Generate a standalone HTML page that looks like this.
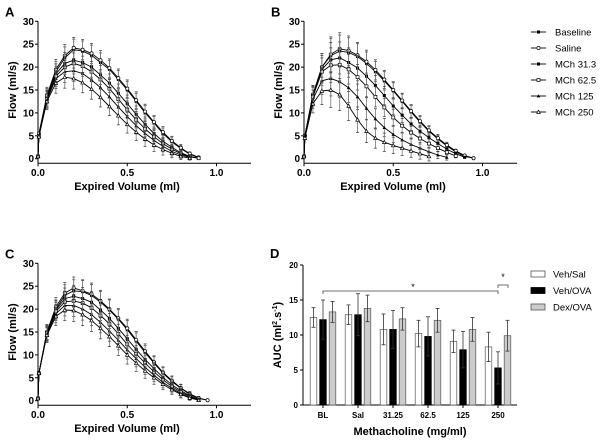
<!DOCTYPE html>
<html><head><meta charset="utf-8"><style>
html,body{margin:0;padding:0;background:#fff;}
svg{display:block;font-family:"Liberation Sans",Arial,sans-serif;}
</style></head><body>
<svg id="fig" width="600" height="440" viewBox="0 0 600 440"></svg>
<script>
// ---- data ----
const vols = [0,0.005,0.05,0.1,0.15,0.2,0.25,0.3,0.35,0.4,0.45,0.5,0.55,0.6,0.65,0.7,0.75,0.8,0.85,0.9,0.95];
const seriesNames = ["Baseline","Saline","MCh 31.3","MCh 62.5","MCh 125","MCh 250"];
const A_base = [0.5,5,13.5,19,22,23.8,23.5,22.6,21,19.5,17.3,15,12.5,10,7.8,5.5,3.7,2.2,1,0.2,null];
const A_sal  = [0.5,5.5,13.8,19.5,22.5,24.2,23.8,23,21.5,19.8,17.6,15.3,12.8,10.3,8,5.8,3.9,2.4,1.1,0.3,null];
const A_m31  = [0.5,5,13.2,18.5,20.8,21.5,21,20,18.3,16.5,14.3,12,9.7,7.5,5.5,3.8,2.5,1.3,0.5,0.1,null];
const A_m62  = [0.5,5,13,18,20,20.8,20.2,19,17.3,15.3,13,10.7,8.5,6.5,4.8,3.3,2.1,1.1,0.4,0.1,null];
const A_m125 = [0.5,5,12.8,17.5,19,19.2,18.6,17.2,15.5,13.5,11.3,9.2,7.2,5.5,4,2.7,1.6,0.8,0.3,null,null];
const A_m250 = [0.5,4.8,12.5,16.5,17.8,17.5,16.6,15.2,13.4,11.4,9.4,7.5,5.8,4.3,3,2,1.2,0.5,0.1,null,null];
const A_err  = [0.5,1.5,1.8,2.2,2.4,2.3,2.2,2.2,2.1,2,2,1.9,1.8,1.6,1.4,1.2,1,0.7,0.4,0.2,0.1];
const B_base = [0.5,5,14,20,22.5,23.5,23.2,22.3,20.8,19,17,14.8,12.5,10.2,8,6,4.3,2.8,1.5,0.5,0.1];
const B_sal  = [0.5,5,14,20,22.8,24,23.6,22.6,21.2,19.4,17.3,15,12.7,10.4,8.2,6.2,4.5,3,1.7,0.7,0.1];
const B_m31  = [0.5,5,13.8,19.5,21.6,22,21,19.8,18,16,13.8,11.5,9.5,7.6,6,4.6,3.3,2.1,1.1,0.3,null];
const B_m62  = [0.5,5,13.5,19,20.4,20.5,19.5,17.8,15.8,13.5,11.2,9,7.2,5.7,4.4,3.3,2.3,1.4,0.6,null,null];
const B_m125 = [0.5,5,13,17,17.5,16.8,15.5,13.5,11,8.7,6.8,5.3,4.1,3.1,2.3,1.5,0.8,0.3,null,null,null];
const B_m250 = [0.5,4.5,12,14.8,15,14,11.5,8.5,6,4.5,3.6,2.9,2.3,1.7,1.1,0.5,null,null,null,null,null];
const B_err  = [0.5,1.5,2,3,3.8,3.5,3.2,2.8,2.5,2.2,2,1.8,1.6,1.4,1.2,1,0.8,0.6,0.4,0.2,0.1];
const C_base = [0.5,6,15,20,23,24,23.8,23,21.5,19.8,17.8,15.5,13,10.5,8.2,6,4.2,2.7,1.4,0.5,0.1];
const C_sal  = [0.5,6,15,20.5,23.5,24.6,24,23.3,21.8,20,18,15.8,13.3,10.8,8.4,6.2,4.4,2.8,1.5,0.6,0.1];
const C_m31  = [0.5,6,14.8,19.8,22.3,22.8,22.3,21.5,19.8,18,15.8,13.5,11.2,9,7,5.1,3.5,2.2,1.1,0.3,null];
const C_m62  = [0.5,6,14.7,19.5,21.6,21.8,21.3,20.3,18.6,16.8,14.6,12.3,10.2,8.2,6.3,4.6,3.1,1.9,0.9,0.2,null];
const C_m125 = [0.5,6,14.5,19,20.8,20.8,20,18.8,17.1,15.2,13.2,11.1,9.2,7.3,5.6,4,2.7,1.6,0.7,0.2,null];
const C_m250 = [0.5,6,14.3,18.4,19.8,19.7,18.8,17.5,15.8,14,12,10,8.2,6.5,5,3.6,2.4,1.4,0.6,0.1,null];
const C_err  = [0.5,1.2,1.6,2,2.3,2.4,2.4,2.4,2.3,2.2,2.1,2,1.8,1.6,1.4,1.2,1,0.8,0.5,0.3,0.1];
const dCats = ["BL","Sal","31.25","62.5","125","250"];
const dGroups = ["Veh/Sal","Veh/OVA","Dex/OVA"];
const vehSal = [12.5,12.9,10.8,10.2,9.1,8.3];
const vehOva = [12.2,12.9,10.8,9.8,7.9,5.3];
const dexOva = [13.3,13.8,12.3,12.1,10.8,9.9];
const vehSalErr = [1.4,1.4,2.2,1.9,1.6,2.1];
const vehOvaErr = [2.8,3.0,2.7,2.8,2.6,2.3];
const dexOvaErr = [1.5,1.9,1.6,1.7,1.7,2.2];
const flowTicks = [0,5,10,15,20,25,30];
const volTicks = [0,0.5,1.0];
const volTickLabels = ["0.0","0.5","1.0"];
const aucTicks = [0,5,10,15,20];

// ---- drawing ----
const NS="http://www.w3.org/2000/svg";
const svg=document.getElementById('fig');
function mk(tag,attrs,parent){const e=document.createElementNS(NS,tag);for(const k in attrs)e.setAttribute(k,attrs[k]);(parent||svg).appendChild(e);return e;}
const markerKinds=["fsq","ocirc","fsq2","osq","ftri","otri"];
function marker(g,kind,x,y){
  let e;
  if(kind==="fsq"||kind==="fsq2"){e=mk('rect',{x:x-1.5,y:y-1.5,width:3,height:3,fill:'#000'},g);}
  else if(kind==="osq"){e=mk('rect',{x:x-1.5,y:y-1.5,width:3,height:3,fill:'#fff',stroke:'#000','stroke-width':0.7},g);}
  else if(kind==="ocirc"){e=mk('circle',{cx:x,cy:y,r:1.6,fill:'#fff',stroke:'#000','stroke-width':0.7},g);}
  else if(kind==="ftri"){e=mk('path',{d:`M${x} ${y-1.8}L${x+1.8} ${y+1.4}L${x-1.8} ${y+1.4}Z`,fill:'#000'},g);}
  else {e=mk('path',{d:`M${x} ${y-1.8}L${x+1.8} ${y+1.4}L${x-1.8} ${y+1.4}Z`,fill:'#fff',stroke:'#000','stroke-width':0.7},g);}
  
  
}
function flowPanel(letter,x0,yZero,series,err){
  const g=mk('g',{});
  
  
  const sx=v=>x0+v*178.5, sy=f=>yZero-f*4.58;
  const axisY=yZero+4.5;
  const lt=mk('text',{x:x0-33,y:yZero-142,'font-size':13,'font-weight':'bold'},g);lt.textContent=letter;
  
  const ya=mk('line',{x1:x0,y1:sy(30),x2:x0,y2:axisY,stroke:'#000','stroke-width':1},g);
  
  const xa=mk('line',{x1:x0,y1:axisY,x2:x0+213,y2:axisY,stroke:'#000','stroke-width':1},g);
  
  flowTicks.forEach(t=>{mk('line',{x1:x0-3,y1:sy(t),x2:x0,y2:sy(t),stroke:'#000'},g);
    const tx=mk('text',{x:x0-4,y:sy(t)+3.5,'font-size':10,'font-weight':'bold','text-anchor':'end'},g);tx.textContent=t;
    });
  volTicks.forEach((t,i)=>{mk('line',{x1:sx(t),y1:axisY,x2:sx(t),y2:axisY+3,stroke:'#000'},g);
    const tx=mk('text',{x:sx(t),y:axisY+13,'font-size':10,'font-weight':'bold','text-anchor':'middle'},g);tx.textContent=volTickLabels[i];
    });
  const yt=mk('text',{x:0,y:0,'font-size':11,'font-weight':'bold','text-anchor':'middle',transform:`translate(${x0-22},${sy(15)}) rotate(-90)`},g);yt.textContent="Flow (ml/s)";
  
  const xt=mk('text',{x:x0+89,y:axisY+27,'font-size':11,'font-weight':'bold','text-anchor':'middle'},g);xt.textContent="Expired Volume (ml)";
  
  series.forEach((s,si)=>{
    const sg=mk('g',{},g);
    
    
    s.forEach((f,i)=>{if(f===null||i<2)return;const e=err[i];
      const x=sx(vols[i]);
      mk('line',{x1:x,y1:sy(f-e),x2:x,y2:sy(f+e),stroke:'#777','stroke-width':0.8},sg);
      mk('line',{x1:x-1.5,y1:sy(f+e),x2:x+1.5,y2:sy(f+e),stroke:'#333','stroke-width':0.7},sg);
      mk('line',{x1:x-1.5,y1:sy(f-e),x2:x+1.5,y2:sy(f-e),stroke:'#333','stroke-width':0.7},sg);});
    let d="";s.forEach((f,i)=>{if(f===null)return;d+=(d?"L":"M")+sx(vols[i]).toFixed(1)+" "+sy(f).toFixed(1);});
    const p=mk('path',{d:d,fill:'none',stroke:'#000','stroke-width':0.9},sg);
    
    s.forEach((f,i)=>{if(f===null)return;marker(sg,markerKinds[si],sx(vols[i]),sy(f));});
  });
}
flowPanel("A",38,158.7,[A_base,A_sal,A_m31,A_m62,A_m125,A_m250],A_err);
flowPanel("B",304,158.7,[B_base,B_sal,B_m31,B_m62,B_m125,B_m250],B_err);
flowPanel("C",38,400.7,[C_base,C_sal,C_m31,C_m62,C_m125,C_m250],C_err);

// legend for flow panels
seriesNames.forEach((n,i)=>{
  const y=32+i*16;
  const lg=mk('g',{});
  
  
  mk('line',{x1:531,y1:y,x2:546,y2:y,stroke:'#000','stroke-width':0.9},lg);
  marker(lg,markerKinds[i],538.5,y);
  const t=mk('text',{x:555,y:y+3.5,'font-size':9.5},lg);t.textContent=n;
});

// ---- panel D ----
(function(){
  const g=mk('g',{});
  
  
  const x0=303, y0=405, sy=v=>y0-v*7, cx=i=>323+i*35;
  const lt=mk('text',{x:270,y:258,'font-size':13,'font-weight':'bold'},g);lt.textContent="D";
  
  const ya=mk('line',{x1:x0,y1:sy(20),x2:x0,y2:y0,stroke:'#000'},g);
  
  const xa=mk('line',{x1:x0,y1:y0,x2:517,y2:y0,stroke:'#000'},g);
  
  aucTicks.forEach(t=>{mk('line',{x1:x0-3,y1:sy(t),x2:x0,y2:sy(t),stroke:'#000'},g);
    const tx=mk('text',{x:x0-5,y:sy(t)+3,'font-size':8,'font-weight':'bold','text-anchor':'end'},g);tx.textContent=t;
    });
  dCats.forEach((c,i)=>{mk('line',{x1:cx(i),y1:y0,x2:cx(i),y2:y0+3,stroke:'#000'},g);
    const tx=mk('text',{x:cx(i),y:y0+13,'font-size':8,'font-weight':'bold','text-anchor':'middle'},g);tx.textContent=c;
    });
  const yt=mk('text',{x:0,y:0,'font-size':11,'font-weight':'bold','text-anchor':'middle',transform:`translate(281,${sy(10)}) rotate(-90)`},g);
  yt.innerHTML='AUC (ml<tspan font-size="7" dy="-4">2</tspan><tspan dy="4">.s</tspan><tspan font-size="7" dy="-4">-1</tspan><tspan dy="4">)</tspan>';
  
  const xt=mk('text',{x:410,y:435,'font-size':11,'font-weight':'bold','text-anchor':'middle'},g);xt.textContent="Methacholine (mg/ml)";
  
  const groups=[vehSal,vehOva,dexOva], errs=[vehSalErr,vehOvaErr,dexOvaErr], fills=['#fff','#000','#ccc'], offs=[-9.5,0,9.5];
  groups.forEach((vals,gi)=>{vals.forEach((v,i)=>{
    const x=cx(i)+offs[gi];
    const r=mk('rect',{x:x-3.3,y:sy(v),width:6.6,height:y0-sy(v),fill:fills[gi],stroke:gi===1?'#000':'#555','stroke-width':0.7},g);
    
    
    const e=errs[gi][i];
    mk('line',{x1:x,y1:sy(v-e),x2:x,y2:sy(v+e),stroke:'#333','stroke-width':0.8},g);
    mk('line',{x1:x-2,y1:sy(v+e),x2:x+2,y2:sy(v+e),stroke:'#333','stroke-width':0.8},g);
    mk('line',{x1:x-2,y1:sy(v-e),x2:x+2,y2:sy(v-e),stroke:'#333','stroke-width':0.8},g);
  });});
  const s1=mk('path',{d:`M${cx(0)} 294L${cx(0)} 291L${cx(5)} 291L${cx(5)} 294`,fill:'none',stroke:'#444','stroke-width':0.8},g);
  
  const st1=mk('text',{x:413,y:290,'font-size':9,'text-anchor':'middle'},g);st1.textContent="*";
  const s2=mk('path',{d:`M${cx(5)} 288L${cx(5)} 285L${cx(5)+10} 285L${cx(5)+10} 288`,fill:'none',stroke:'#444','stroke-width':0.8},g);
  
  const st2=mk('text',{x:cx(5)+5,y:280,'font-size':9,'text-anchor':'middle'},g);st2.textContent="*";
  dGroups.forEach((n,i)=>{
    const y=274+i*16.5;
    const lg=mk('g',{},g);
    
    
    mk('rect',{x:531,y:y-3,width:14,height:6,fill:fills[i],stroke:i===1?'#000':'#555','stroke-width':0.8},lg);
    const t=mk('text',{x:553,y:y+3.5,'font-size':9.5},lg);t.textContent=n;
  });
})();
</script>
</body></html>
